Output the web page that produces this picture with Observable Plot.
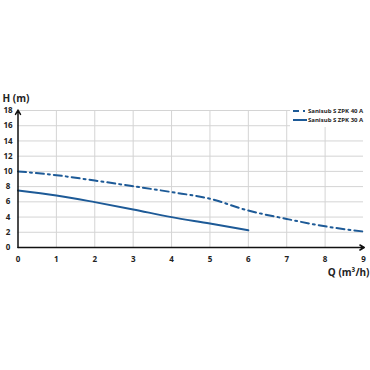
<!DOCTYPE html>
<html><head>
<meta charset="utf-8">
<script src="https://cdn.jsdelivr.net/npm/d3@7"></script>
<script src="https://cdn.jsdelivr.net/npm/@observablehq/plot@0.6"></script>
<style>
body{margin:0;background:#fff}
#c{position:relative;width:370px;height:370px;font-family:"Open Sans",sans-serif}
#legend{position:absolute;left:290px;top:106px;width:80px;height:21px;background:#fff;font:bold 6px "Open Sans",sans-serif;color:#222}
#legend div{display:flex;align-items:center;height:9.5px;white-space:nowrap}
#legend svg{margin-right:1px}
</style>
</head><body><div id="c"></div>
<script>
const q40 = [0, 1, 2, 3, 4, 5, 6, 7, 8, 9];
const h40 = [10.0, 9.5, 8.8, 8.05, 7.28, 6.4, 4.85, 3.75, 2.78, 2.1];
const q30 = [0, 1, 2, 3, 4, 5, 6];
const h30 = [7.5, 6.84, 5.96, 5.0, 3.99, 3.15, 2.26];
const series = ["Sanisub S ZPK 40 A", "Sanisub S ZPK 30 A"];
const xTicks = [0, 1, 2, 3, 4, 5, 6, 7, 8, 9];
const yTicks = [0, 2, 4, 6, 8, 10, 12, 14, 16, 18];
const color = "#1d5a97";
const dash40 = "8,4,2,4";

const d40 = q40.map((q, i) => ({q, h: h40[i]}));
const d30 = q30.map((q, i) => ({q, h: h30[i]}));

const chart = Plot.plot({
  width: 370, height: 370,
  x: {domain: [0, 9], range: [17.5, 363], axis: null},
  y: {domain: [0, 18], range: [247, 110], axis: null},
  style: {fontFamily: "'Open Sans', sans-serif", background: "#fff"},
  marks: [
    Plot.ruleX(xTicks.filter(d => d > 0 && d < 9), {y1: 0, y2: 18, stroke: "#d4d4d4", strokeWidth: 1}),
    Plot.ruleY(yTicks.filter(d => d > 0), {x1: 0, x2: 9, stroke: "#d4d4d4", strokeWidth: 1}),
    Plot.line(d40, {x: "q", y: "h", stroke: color, strokeWidth: 2, strokeDasharray: dash40, curve: "monotone-x"}),
    Plot.line(d30, {x: "q", y: "h", stroke: color, strokeWidth: 2, curve: "monotone-x"}),
    Plot.arrow([{x1: 0, y1: 0, x2: 9.02, y2: 0}], {x1: "x1", y1: "y1", x2: "x2", y2: "y2", stroke: "#111", strokeWidth: 1.5, headLength: 5, headAngle: 60}),
    Plot.arrow([{x1: 0, y1: 0, x2: 0, y2: 18.05}], {x1: "x1", y1: "y1", x2: "x2", y2: "y2", stroke: "#111", strokeWidth: 1.5, headLength: 5, headAngle: 60}),
    Plot.text(yTicks, {x: 0, y: d => d, dx: -10, text: d => String(d), textAnchor: "middle", fontSize: 8, fontWeight: "bold", fill: "#222"}),
    Plot.text(xTicks, {x: d => d, y: 0, dy: 12, text: d => String(d), textAnchor: "middle", fontSize: 8, fontWeight: "bold", fill: "#222"}),
    Plot.text(["H (m)"], {x: 0, y: 18, dx: -15.5, dy: -11.5, text: d => d, textAnchor: "start", fontSize: 10, fontWeight: "bold", fill: "#222"}),
    Plot.text(["Q (m³/h)"], {x: 9, y: 0, dx: 6, dy: 25, text: d => d, textAnchor: "end", fontSize: 10, fontWeight: "bold", fill: "#222"})
  ]
});
const c = document.getElementById("c");
c.appendChild(chart);

const legend = document.createElement("div");
legend.id = "legend";
series.forEach((name, i) => {
  const row = document.createElement("div");
  row.innerHTML = `<svg width="17" height="4"><line x1="3" y1="2" x2="17" y2="2" stroke="${color}" stroke-width="2" ${i === 0 ? `stroke-dasharray="6,4,2,4"` : ""}/></svg><span>${name}</span>`;
  legend.appendChild(row);
});
c.appendChild(legend);
</script>
</body></html>
